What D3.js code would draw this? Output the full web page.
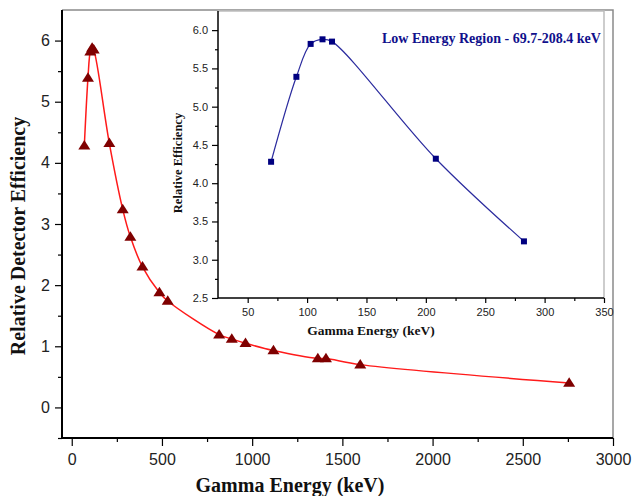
<!DOCTYPE html>
<html>
<head>
<meta charset="utf-8">
<script src="https://cdn.jsdelivr.net/npm/d3@7"></script>
<style>
  html, body { margin: 0; padding: 0; background: #fff; }
  svg { display: block; }
</style>
</head>
<body>
<svg id="chart" width="633" height="496"></svg>
<script>
// ---- Data ----
const mainEnergy = [69.7, 90.0, 103.0, 113.0, 121.8, 208.4, 282.6, 325, 392, 486, 532, 817, 887, 963, 1118, 1364, 1409, 1599, 2757];
const mainEff    = [4.28, 5.39, 5.82, 5.88, 5.85, 4.32, 3.24, 2.79, 2.30, 1.88, 1.74, 1.19, 1.12, 1.05, 0.93, 0.80, 0.80, 0.70, 0.40];
const insetEnergy = [69.7, 91.0, 103.0, 113.0, 121.0, 208.4, 282.6];
const insetEff    = [4.28, 5.39, 5.82, 5.88, 5.85, 4.32, 3.24];
const mainXTicks = [0, 500, 1000, 1500, 2000, 2500, 3000];
const mainXMinor = [250, 750, 1250, 1750, 2250, 2750];
const mainYTicks = [0, 1, 2, 3, 4, 5, 6];
const mainYMinor = [-0.5, 0.5, 1.5, 2.5, 3.5, 4.5, 5.5];
const insetXTicks = [50, 100, 150, 200, 250, 300, 350];
const insetXMinor = [75, 125, 175, 225, 275, 325];
const insetYTicks = [2.5, 3.0, 3.5, 4.0, 4.5, 5.0, 5.5, 6.0];
const insetYMinor = [2.75, 3.25, 3.75, 4.25, 4.75, 5.25, 5.75];
const mainXTitle = "Gamma Energy (keV)";
const mainYTitle = "Relative Detector Efficiency";
const insetXTitle = "Gamma Energy (keV)";
const insetYTitle = "Relative Efficiency";
const insetLabel = "Low Energy Region - 69.7-208.4 keV";

const mainData = mainEnergy.map((e, i) => ({x: e, y: mainEff[i]}));
const insetData = insetEnergy.map((e, i) => ({x: e, y: insetEff[i]}));

const svg = d3.select("#chart");
const SANS = "'Liberation Sans', Arial, sans-serif";
const SERIF = "'Liberation Serif', 'Times New Roman', serif";

// ---- Main chart ----
const mx = d3.scaleLinear().domain([-54, 3000]).range([62, 613]);
const my = d3.scaleLinear().domain([-0.5, 6.5]).range([438, 10]);

// frame (top/right)
svg.append("path")
  .attr("d", `M${mx.range()[0]},${my.range()[1]} H${mx.range()[1]} V${my.range()[0]}`)
  .attr("fill", "none").attr("stroke", "#8a8a8a").attr("stroke-width", 1.5);

function styleAxis(g, fontSize) {
  g.select(".domain").remove();
  g.selectAll("line").attr("stroke", "#000").attr("stroke-width", 1.5);
  g.selectAll("text").attr("font-family", SANS).attr("font-size", fontSize).attr("fill", "#222");
}

const gx = svg.append("g").attr("transform", `translate(0,${my.range()[0]})`)
  .call(d3.axisBottom(mx).tickValues(mainXTicks).tickFormat(d3.format("d")).tickSize(8).tickPadding(8));
styleAxis(gx, 16);
const gxm = svg.append("g").attr("transform", `translate(0,${my.range()[0]})`)
  .call(d3.axisBottom(mx).tickValues(mainXMinor).tickFormat("").tickSize(4));
styleAxis(gxm, 16);

const gy = svg.append("g").attr("transform", `translate(${mx.range()[0]},0)`)
  .call(d3.axisLeft(my).tickValues(mainYTicks).tickFormat(d3.format("d")).tickSize(7).tickPadding(5));
styleAxis(gy, 16);
const gym = svg.append("g").attr("transform", `translate(${mx.range()[0]},0)`)
  .call(d3.axisLeft(my).tickValues(mainYMinor).tickFormat("").tickSize(4));
styleAxis(gym, 16);

// axis lines
svg.append("line").attr("x1", mx.range()[0]).attr("x2", mx.range()[1])
  .attr("y1", my.range()[0]).attr("y2", my.range()[0]).attr("stroke", "#000").attr("stroke-width", 2);
svg.append("line").attr("x1", mx.range()[0]).attr("x2", mx.range()[0])
  .attr("y1", my.range()[1]).attr("y2", my.range()[0] + 1).attr("stroke", "#000").attr("stroke-width", 2);

// titles
svg.append("text").attr("x", 290).attr("y", 492).attr("text-anchor", "middle")
  .attr("font-family", SERIF).attr("font-weight", "bold").attr("font-size", 20).attr("fill", "#111")
  .text(mainXTitle);
svg.append("text").attr("transform", "translate(25,236) rotate(-90)").attr("text-anchor", "middle")
  .attr("font-family", SERIF).attr("font-weight", "bold").attr("font-size", 20).attr("fill", "#111")
  .text(mainYTitle);

// ---- Inset ----
const ix = d3.scaleLinear().domain([25, 350]).range([218, 604]);
const iy = d3.scaleLinear().domain([2.5, 6.25]).range([298, 11]);

svg.append("rect").attr("x", ix.range()[0]).attr("y", iy.range()[1])
  .attr("width", ix.range()[1] - ix.range()[0]).attr("height", iy.range()[0] - iy.range()[1])
  .attr("fill", "#fff");
svg.append("path")
  .attr("d", `M${ix.range()[0]},${iy.range()[1]} H${ix.range()[1]} V${iy.range()[0]}`)
  .attr("fill", "none").attr("stroke", "#bdbdbd").attr("stroke-width", 1.5);

// main series line (drawn after inset bg so visible; it lies outside inset anyway)
const mline = d3.line().x(d => mx(d.x)).y(d => my(d.y)).curve(d3.curveCatmullRom.alpha(0.5));
svg.append("path").datum(mainData).attr("d", mline)
  .attr("fill", "none").attr("stroke", "#ff1a1a").attr("stroke-width", 1.5);

const tri = (cx, cy) => {
  const w = 6, h = 9.5;
  return `M${cx},${cy - h * 0.6} L${cx + w},${cy + h * 0.4} L${cx - w},${cy + h * 0.4} Z`;
};
svg.append("g").selectAll("path").data(mainData).join("path")
  .attr("d", d => tri(mx(d.x), my(d.y)))
  .attr("fill", "#7f0000");

const gix = svg.append("g").attr("transform", `translate(0,${iy.range()[0]})`)
  .call(d3.axisBottom(ix).tickValues(insetXTicks).tickFormat(d3.format("d")).tickSize(5).tickPadding(5));
styleAxis(gix, 11);
const gixm = svg.append("g").attr("transform", `translate(0,${iy.range()[0]})`)
  .call(d3.axisBottom(ix).tickValues(insetXMinor).tickFormat("").tickSize(3));
styleAxis(gixm, 11);
const giy = svg.append("g").attr("transform", `translate(${ix.range()[0]},0)`)
  .call(d3.axisLeft(iy).tickValues(insetYTicks).tickFormat(d3.format(".1f")).tickSize(6).tickPadding(4));
styleAxis(giy, 11);
const giym = svg.append("g").attr("transform", `translate(${ix.range()[0]},0)`)
  .call(d3.axisLeft(iy).tickValues(insetYMinor).tickFormat("").tickSize(3));
styleAxis(giym, 11);
svg.selectAll(".tick line").attr("stroke-width", 1.2);

svg.append("line").attr("x1", ix.range()[0]).attr("x2", ix.range()[1])
  .attr("y1", iy.range()[0]).attr("y2", iy.range()[0]).attr("stroke", "#000").attr("stroke-width", 1.5);
svg.append("line").attr("x1", ix.range()[0]).attr("x2", ix.range()[0])
  .attr("y1", iy.range()[1]).attr("y2", iy.range()[0]).attr("stroke", "#000").attr("stroke-width", 1.5);

const iline = d3.line().x(d => ix(d.x)).y(d => iy(d.y)).curve(d3.curveCatmullRom.alpha(0.5));
svg.append("path").datum(insetData).attr("d", iline)
  .attr("fill", "none").attr("stroke", "#2b2b9e").attr("stroke-width", 1.2);
svg.append("g").selectAll("rect").data(insetData).join("rect")
  .attr("x", d => ix(d.x) - 3).attr("y", d => iy(d.y) - 3)
  .attr("width", 6).attr("height", 6).attr("fill", "#000080");

svg.append("text").attr("x", 371).attr("y", 335).attr("text-anchor", "middle")
  .attr("font-family", SERIF).attr("font-weight", "bold").attr("font-size", 13.5).attr("fill", "#111")
  .text(insetXTitle);
svg.append("text").attr("transform", "translate(182,163) rotate(-90)").attr("text-anchor", "middle")
  .attr("font-family", SERIF).attr("font-weight", "bold").attr("font-size", 12.5).attr("fill", "#111")
  .text(insetYTitle);
svg.append("text").attr("x", 382).attr("y", 43).attr("text-anchor", "start")
  .attr("font-family", SERIF).attr("font-weight", "bold").attr("font-size", 14).attr("fill", "#10108c")
  .text(insetLabel);
</script>
</body>
</html>
